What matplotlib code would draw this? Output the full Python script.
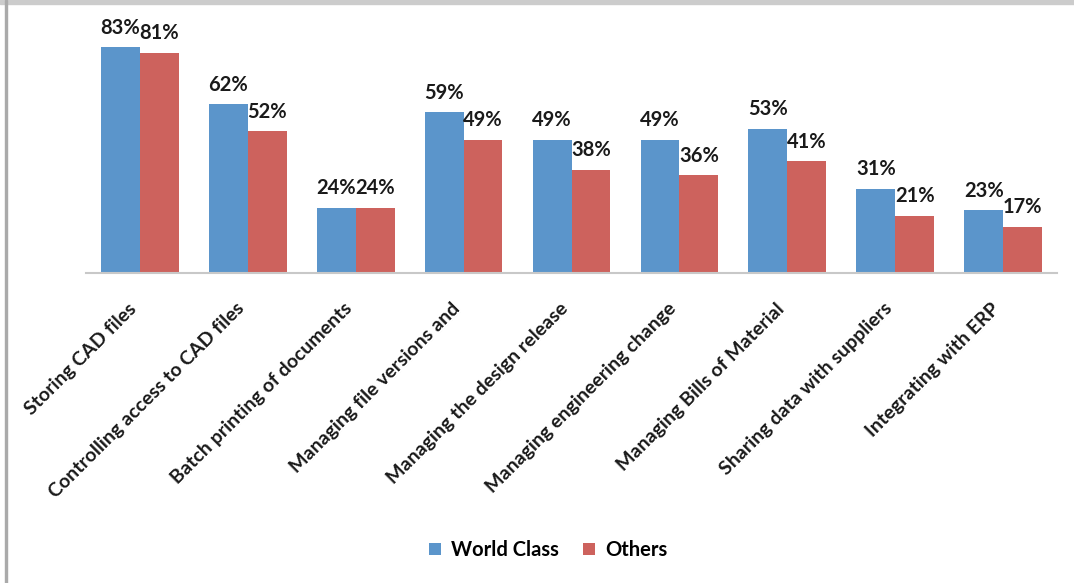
import numpy as np
import matplotlib.pyplot as plt
from matplotlib.patches import Rectangle

plt.rcParams['font.family'] = ['Lato', 'DejaVu Sans']

categories = ["Storing CAD files", "Controlling access to CAD files",
              "Batch printing of documents", "Managing file versions and",
              "Managing the design release", "Managing engineering change",
              "Managing Bills of Material", "Sharing data with suppliers",
              "Integrating with ERP"]
world_class = [83, 62, 24, 59, 49, 49, 53, 31, 23]
others = [81, 52, 24, 49, 38, 36, 41, 21, 17]

blue = "#5B95CB"
red = "#CD625D"

fig = plt.figure(figsize=(10.74, 5.83), dpi=100)
ax = fig.add_axes([86/1074, 1 - 273/583, (1057-86)/1074, (273-28)/583])

x = np.arange(len(categories))
w = 0.36
b1 = ax.bar(x - w/2, world_class, w, color=blue, label="World Class")
b2 = ax.bar(x + w/2, others, w, color=red, label="Others")

for bars, vals in [(b1, world_class), (b2, others)]:
    for bar, v in zip(bars, vals):
        ax.annotate(f"{v}%", (bar.get_x() + bar.get_width()/2, v),
                    xytext=(0, 14), textcoords="offset points",
                    ha="center", va="center", fontsize=14.5, fontweight="bold",
                    color="#1a1a1a")

ax.set_xlim(-0.5, len(categories) - 0.5)
ax.set_ylim(0, 90)
ax.set_yticks([])
for s in ["top", "right", "left"]:
    ax.spines[s].set_visible(False)
ax.spines["bottom"].set_color("#c8c8c8")
ax.spines["bottom"].set_linewidth(1.5)
ax.set_xticks(x)
ax.set_xticklabels(categories, rotation=45, ha="right", va="bottom",
                   rotation_mode="anchor",
                   fontsize=14, fontweight="bold", color="#1a1a1a")
ax.tick_params(axis="x", length=0, pad=28)

ax.legend(loc="center", bbox_to_anchor=(548/1074, 1 - 550/583),
          bbox_transform=fig.transFigure, ncol=2, frameon=False,
          prop={"size": 14.5, "weight": "bold"}, handlelength=0.6,
          handleheight=0.6, handletextpad=0.5, columnspacing=1.2)

# thin grey frame at top and left, like the original screenshot
fig.patches.append(Rectangle((0, 1 - 4/583), 1, 4/583, transform=fig.transFigure,
                             color="#cccccc", zorder=0))
fig.patches.append(Rectangle((5/1074, 0), 2/1074, 1, transform=fig.transFigure,
                             color="#aaaaaa", zorder=0))

fig.savefig("out.png", dpi=100)
